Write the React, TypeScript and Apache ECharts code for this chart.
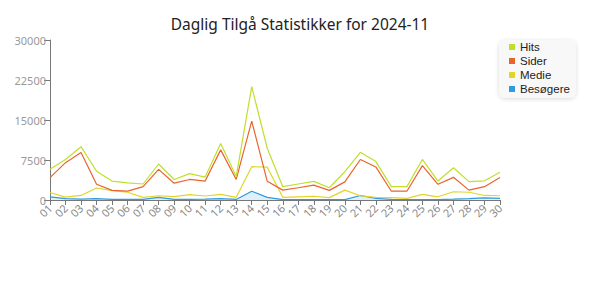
import React, { useEffect, useRef } from "react";
import * as echarts from "echarts";

const days = ["01","02","03","04","05","06","07","08","09","10","11","12","13","14","15","16","17","18","19","20","21","22","23","24","25","26","27","28","29","30"];
const hits = [5750, 7600, 10000, 5400, 3550, 3200, 3000, 6750, 3850, 4950, 4300, 10600, 4400, 21250, 9700, 2500, 3000, 3500, 2300, 5300, 8950, 7200, 2500, 2500, 7600, 3550, 6050, 3450, 3600, 5200];
const sider = [4200, 7000, 8900, 2950, 1800, 1650, 2500, 5750, 3150, 3850, 3550, 9400, 3850, 14800, 3500, 1850, 2300, 2800, 1800, 3400, 7600, 6200, 1650, 1650, 6450, 2950, 4250, 1850, 2500, 4200];
const medie = [1400, 550, 850, 2250, 1750, 1450, 500, 800, 650, 1000, 750, 1050, 500, 6250, 6150, 500, 600, 700, 450, 1850, 800, 500, 450, 300, 1050, 600, 1550, 1450, 850, 800];
const besogere = [600, 250, 150, 250, 100, 100, 100, 500, 100, 100, 150, 250, 100, 1650, 500, 80, 80, 80, 80, 80, 850, 300, 100, 80, 80, 80, 150, 250, 400, 300];
const seriesNames = ["Hits", "Sider", "Medie", "Besøgere"];
const colors = ["#c0df2b", "#e8642e", "#e2d52a", "#2f9ae0"];
const title = "Daglig Tilgå Statistikker for 2024-11";

export default function App() {
  const ref = useRef<HTMLDivElement>(null);
  useEffect(() => {
    if (!ref.current) return;
    const chart = echarts.init(ref.current, undefined, { renderer: "svg" });
    const font = "Noto Sans";
    const data = [hits, sider, medie, besogere];
    chart.setOption({
      animation: false,
      color: colors,
      title: {
        text: title,
        left: "center",
        top: 11,
        textStyle: { fontFamily: font, fontSize: 15.5, fontWeight: "normal", color: "#222" },
      },
      legend: {
        orient: "vertical",
        left: 499,
        top: 40,
        padding: [1, 6, 3, 10],
        itemWidth: 6,
        itemHeight: 6,
        itemGap: 2,
        icon: "rect",
        backgroundColor: "#f8f8f8",
        borderRadius: 6,
        shadowColor: "rgba(0,0,0,0.15)",
        shadowBlur: 4,
        shadowOffsetY: 1,
        textStyle: { fontFamily: "Liberation Sans", fontSize: 11.5, lineHeight: 11, color: "#222" },
        data: seriesNames,
      },
      grid: { left: 50, right: 100, top: 40, bottom: 100 },
      xAxis: {
        type: "category",
        boundaryGap: false,
        data: days,
        axisLine: { lineStyle: { color: "#777" } },
        axisTick: { alignWithLabel: true, lineStyle: { color: "#777" } },
        axisLabel: { rotate: 45, interval: 0, fontFamily: font, fontSize: 11, color: "#888", margin: 6 },
      },
      yAxis: {
        type: "value",
        min: 0,
        max: 30000,
        interval: 7500,
        splitLine: { show: false },
        axisLine: { show: true, lineStyle: { color: "#777" } },
        axisTick: { show: true, length: 6, lineStyle: { color: "#777" } },
        axisLabel: { fontFamily: font, fontSize: 11, color: "#999", margin: 4, formatter: (v: number) => String(v) },
      },
      series: seriesNames.map((name, i) => ({
        name,
        type: "line",
        data: data[i],
        symbol: "none",
        lineStyle: { width: 1.2, color: colors[i] },
        itemStyle: { color: colors[i] },
        areaStyle: i === 3 ? { color: colors[i], opacity: 0.15 } : undefined,
        z: 10 - i,
      })),
    });
    return () => chart.dispose();
  }, []);
  return <div ref={ref} style={{ width: 600, height: 300, margin: -8 }} />;
}
